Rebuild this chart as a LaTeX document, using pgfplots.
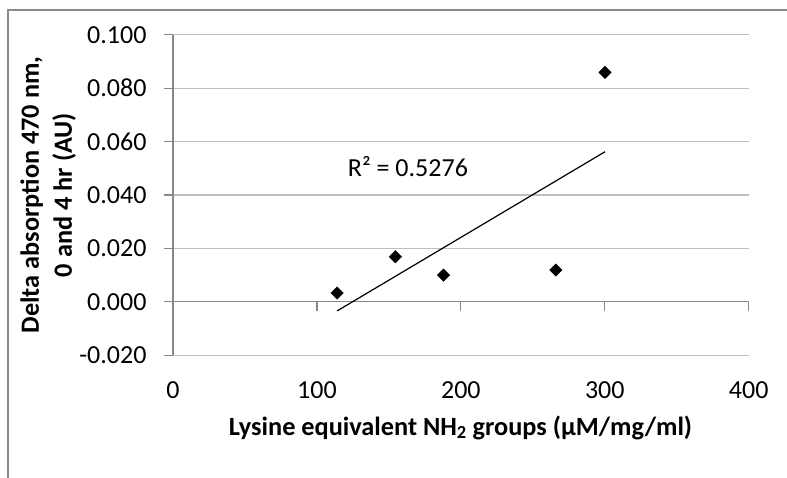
\documentclass[border=0pt]{standalone}
\usepackage{pgfplots}
\pgfplotsset{compat=1.18}
\usepackage{fontspec}
\setmainfont{Carlito}
\definecolor{axisgray}{HTML}{878787}
\definecolor{gridgray}{HTML}{BFBFBF}
\definecolor{framegray}{HTML}{8A8A8A}

\begin{document}
\fontsize{26}{31}\selectfont
\begin{tikzpicture}[x=1pt,y=1pt]
\path[use as bounding box] (0,0) rectangle (787,477);
% chart frame (left and top edges)
\draw[framegray, line width=1.2pt] (8,-5) -- (8,467) -- (792,467);

\begin{axis}[
  at={(173pt,121.7pt)}, anchor=south west, scale only axis,
  width=575.7pt, height=320.6pt,
  xmin=0, xmax=400, ymin=-0.02, ymax=0.1,
  axis x line*=bottom, axis y line*=left,
  x axis line style={draw=none},
  xtick={0,100,200,300,400},
  xticklabels={0,100,200,300,400},
  xtick style={draw=none},
  ytick={-0.02,0,0.02,0.04,0.06,0.08,0.1},
  yticklabels={-0.020,0.000,0.020,0.040,0.060,0.080,0.100},
  y axis line style={axisgray, line width=1.2pt},
  ytick style={axisgray, line width=1.2pt},
  tick align=outside, major tick length=8.5pt,
  ymajorgrids, major grid style={gridgray, line width=1.2pt},
  xticklabel style={anchor=base, yshift=-34.2pt, inner sep=0pt},
  yticklabel style={anchor=east, xshift=-17.8pt, inner sep=0pt},
  tick label style={font=\fontsize{26}{31}\selectfont},
  clip=false,
]
% horizontal axis drawn through y = 0
\draw[axisgray, line width=1.2pt] (axis cs:0,0) -- (axis cs:400,0);
\pgfplotsinvokeforeach{100,200,300,400}{
  \draw[axisgray, line width=1.2pt] (axis cs:#1,0) -- ++(0pt,-9pt);
}
% measured samples
\addplot[only marks, mark=square*, mark size=4.4pt,
  mark options={rotate=45, fill=black, draw=black}]
  coordinates {(114,0.0033) (154.5,0.0169) (187.9,0.0100) (266,0.0119) (300.2,0.0859)};
% linear trend line
\addplot[black, line width=1.2pt] coordinates {(114,-0.0034) (300.2,0.0562)};
\node[anchor=west, inner sep=0pt] at (axis cs:121.4,0.0506) {R² = 0.5276};
\end{axis}

\node[anchor=base, inner sep=0pt, font=\bfseries\fontsize{26.3}{32}\selectfont] at (460.5,42)
  {Lysine equivalent NH\textsubscript{2} groups (µM/mg/ml)};
\node[rotate=90, align=center, inner sep=0pt, font=\bfseries\fontsize{26.3}{33}\selectfont] at (48,282)
  {Delta absorption 470 nm,\\0 and 4 hr (AU)};
\end{tikzpicture}
\end{document}
